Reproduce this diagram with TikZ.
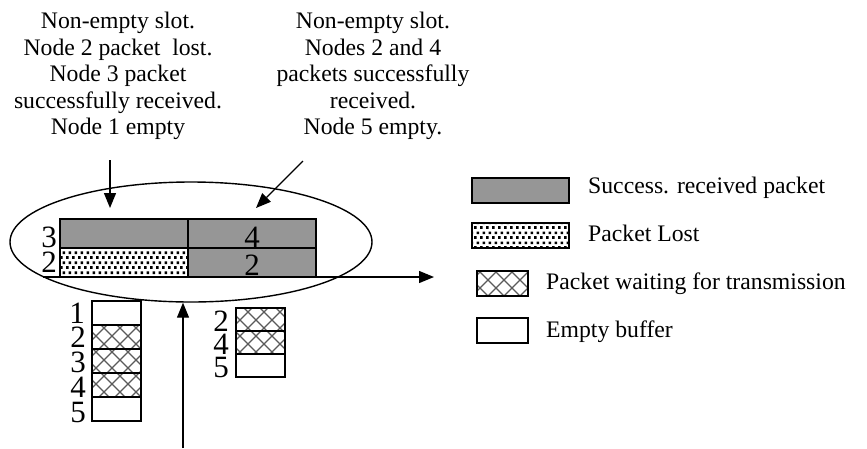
\documentclass[tikz,border=0pt]{standalone}
\usepackage{fontspec}
\setmainfont{Liberation Serif}
\usetikzlibrary{arrows.meta,shapes.geometric,patterns}

% staggered black squares: a lost (collided) packet
\pgfdeclarepatternformonly{lostdots}{\pgfpointorigin}{\pgfpoint{6pt}{10pt}}{\pgfpoint{6pt}{10pt}}{%
  \pgfpathrectangle{\pgfpoint{0.1pt}{0.1pt}}{\pgfpoint{2.9pt}{2.9pt}}%
  \pgfpathrectangle{\pgfpoint{3.1pt}{5.1pt}}{\pgfpoint{2.9pt}{2.9pt}}%
  \pgfusepath{fill}}

% diagonal cross hatch: a packet waiting in a buffer
\pgfdeclarepatternformonly{waitx}{\pgfpoint{-1pt}{-1pt}}{\pgfpoint{17pt}{17pt}}{\pgfpoint{16pt}{16pt}}{%
  \pgfsetlinewidth{1.1pt}%
  \pgfpathmoveto{\pgfpoint{0pt}{0pt}}\pgfpathlineto{\pgfpoint{16pt}{16pt}}%
  \pgfpathmoveto{\pgfpoint{0pt}{16pt}}\pgfpathlineto{\pgfpoint{16pt}{0pt}}%
  \pgfusepath{stroke}}

\definecolor{okgray}{RGB}{150,150,150}
\definecolor{hatchgray}{RGB}{90,90,90}

\tikzset{
  box/.style={draw=black, line width=1.4pt, inner sep=0pt, outer sep=0pt},
  okbox/.style={box, fill=okgray},
  lostbox/.style={box, pattern=lostdots, pattern color=black},
  waitbox/.style={box, pattern=waitx, pattern color=hatchgray},
  emptybox/.style={box, fill=white},
  slotcell/.style={minimum width=128pt, minimum height=29pt},
  bufcell/.style={minimum width=49pt, minimum height=24pt},
  bufcellb/.style={minimum width=49pt, minimum height=23pt},
  legbig/.style={minimum width=97pt, minimum height=25pt},
  legsmall/.style={minimum width=51pt, minimum height=25pt},
  note/.style={align=center, inner sep=0pt, anchor=north, font=\fontsize{23.7}{26.5}\selectfont},
  legtext/.style={anchor=base west, inner sep=0pt, font=\fontsize{23.7}{26.5}\selectfont},
  digit/.style={anchor=base, inner sep=0pt, text height=21pt, text depth=0pt, font=\fontsize{31}{31}\selectfont},
  pointer/.style={line width=1.3pt, -{Triangle[length=15pt,width=12pt]}},
}

\begin{document}
\begin{tikzpicture}[x=1pt,y=-1pt]
  \useasboundingbox (0,0) rectangle (867,448);

  % explanatory notes above the slots
  \node[note] (noteA) at (118,12) {Non-empty slot.\\Node 2 packet\ \ lost.\\Node 3 packet\\successfully received.\\Node 1 empty};
  \node[note] (noteB) at (373,12) {Non-empty slot.\\Nodes 2 and 4\\packets successfully\\received.\\Node 5 empty.};

  % the two slots on the time axis
  \node[okbox, slotcell]   (s1top) at (124,233.5) {};
  \node[lostbox, slotcell] (s1bot) at (124,262.5) {};
  \node[okbox, slotcell]   (s2top) at (252,233.5) {};
  \node[okbox, slotcell]   (s2bot) at (252,262.5) {};

  \node[digit] (l3)  at (49,247) {3};
  \node[digit] (l2)  at (49,272) {2};
  \node[digit] (n4)  at (252,247) {4};
  \node[digit] (n2)  at (252,275) {2};

  % grouping ellipse round both slots
  \node[draw, line width=1.4pt, ellipse, minimum width=362pt, minimum height=120pt, inner sep=0pt] (grp) at (191,242) {};

  % time axis
  \coordinate (axstart) at (43,277);
  \coordinate (axend) at (434,277);
  \draw[pointer] (axstart) -- (axend);

  % buffers before the first slot
  \node[emptybox, bufcell] (b1) at (116.5,313) {};
  \node[waitbox, bufcell]  (b2) at (116.5,337) {};
  \node[waitbox, bufcell]  (b3) at (116.5,361) {};
  \node[waitbox, bufcell]  (b4) at (116.5,385) {};
  \node[emptybox, bufcell] (b5) at (116.5,409) {};
  \node[digit] (bl1) at (77,323) {1};
  \node[digit] (bl2) at (78,347) {2};
  \node[digit] (bl3) at (78,372) {3};
  \node[digit] (bl4) at (78,397) {4};
  \node[digit] (bl5) at (78,422) {5};

  % buffers before the second slot
  \node[waitbox, bufcellb]  (c2) at (260.5,319.5) {};
  \node[waitbox, bufcellb]  (c4) at (260.5,342.5) {};
  \node[emptybox, bufcellb] (c5) at (260.5,365.5) {};
  \node[digit] (cl2) at (221,331) {2};
  \node[digit] (cl4) at (221,354) {4};
  \node[digit] (cl5) at (221,377) {5};

  % pointers
  \coordinate (pA) at (110,160);
  \coordinate (tA) at (110,208);
  \draw[pointer] (pA) -- (tA);
  \coordinate (pB) at (303,161);
  \coordinate (tB) at (256,208);
  \draw[pointer] (pB) -- (tB);
  \coordinate (pC) at (183,448);
  \draw[pointer] (pC) -- (grp.south -| pC);

  % legend
  \node[okbox, legbig]     (k1) at (520.5,190.5) {};
  \node[lostbox, legbig]   (k2) at (520.5,235.5) {};
  \node[waitbox, legsmall] (k3) at (502.5,283.5) {};
  \node[emptybox, legsmall](k4) at (502.5,330.5) {};
  \node[legtext] (t1) at (588,193) {Success. received packet};
  \node[legtext] (t2) at (588,241) {Packet Lost};
  \node[legtext] (t3) at (546,289) {Packet waiting for transmission};
  \node[legtext] (t4) at (546,337) {Empty buffer};
\end{tikzpicture}
\end{document}
